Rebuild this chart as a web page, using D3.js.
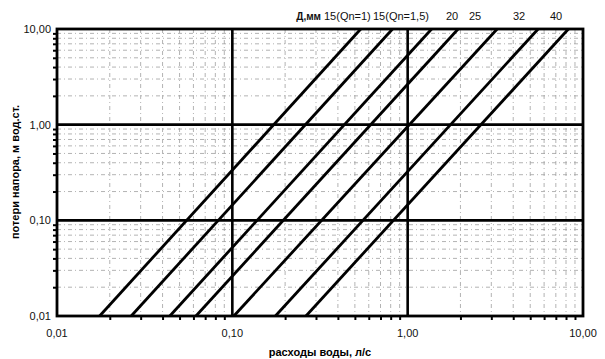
<!DOCTYPE html>
<html>
<head>
<meta charset="utf-8">
<script src="https://cdn.jsdelivr.net/npm/d3@7"></script>
<style>
  body { margin: 0; background: #fff; }
  svg { display: block; font-family: "Liberation Sans", Arial, sans-serif; }
</style>
</head>
<body>
<svg id="chart" width="605" height="359"></svg>
<script>
// flow (l/s) where each line enters the chart at 0.01 m and leaves at 10 m
var flowAtBottom = [0.0175, 0.0265, 0.044, 0.062, 0.102, 0.176, 0.263];
var flowAtTop    = [0.54, 0.82, 1.37, 1.94, 3.24, 5.55, 8.26];
var lossBottom = 0.01, lossTop = 10;

var decades = [0.01, 0.1, 1, 10];
var decadeLabels = ["0,01", "0,10", "1,00", "10,00"];
var headerLabels = ["Д,мм", "15(Qn=1)", "15(Qn=1,5)", "20", "25", "32", "40"];

var svg = d3.select("#chart"),
    margin = {top: 29, right: 22, bottom: 43, left: 57},
    width = +svg.attr("width") - margin.left - margin.right,
    height = +svg.attr("height") - margin.top - margin.bottom,
    g = svg.append("g").attr("transform", "translate(" + margin.left + "," + margin.top + ")");

var x = d3.scaleLog().domain([0.01, 10]).range([0, width]);
var y = d3.scaleLog().domain([0.01, 10]).range([height, 0]);

// minor values 2..9 in every decade
var minor = [];
decades.slice(0, 3).forEach(function(d) {
  for (var k = 2; k <= 9; k++) minor.push(d * k);
});

// minor grid
g.append("g").selectAll("line").data(minor).enter().append("line")
    .attr("x1", function(d) { return x(d); })
    .attr("x2", function(d) { return x(d); })
    .attr("y1", 0).attr("y2", height)
    .attr("stroke", "#a0a0a0")
    .attr("stroke-width", 0.8)
    .attr("stroke-dasharray", "4,3,1,3");
g.append("g").selectAll("line").data(minor).enter().append("line")
    .attr("y1", function(d) { return y(d); })
    .attr("y2", function(d) { return y(d); })
    .attr("x1", 0).attr("x2", width)
    .attr("stroke", "#a0a0a0")
    .attr("stroke-width", 0.8)
    .attr("stroke-dasharray", "4,3,1,3");

// minor ticks on the axes
var yAxis = g.append("g")
    .call(d3.axisLeft(y).tickValues(minor).tickSize(4).tickFormat(""));
var xAxis = g.append("g")
    .attr("transform", "translate(0," + height + ")")
    .call(d3.axisBottom(x).tickValues(minor).tickSize(4).tickFormat(""));
[xAxis, yAxis].forEach(function(a) {
  a.select(".domain").remove();
  a.selectAll(".tick line").attr("stroke", "#000").attr("stroke-width", 2);
});

// major decade lines
g.append("g").selectAll("line").data([0.1, 1]).enter().append("line")
    .attr("x1", function(d) { return x(d); })
    .attr("x2", function(d) { return x(d); })
    .attr("y1", 0).attr("y2", height)
    .attr("stroke", "#000").attr("stroke-width", 2.6);
g.append("g").selectAll("line").data([0.1, 1]).enter().append("line")
    .attr("y1", function(d) { return y(d); })
    .attr("y2", function(d) { return y(d); })
    .attr("x1", 0).attr("x2", width)
    .attr("stroke", "#000").attr("stroke-width", 2.6);

// border
g.append("rect")
    .attr("width", width).attr("height", height)
    .attr("fill", "none").attr("stroke", "#000").attr("stroke-width", 2.8);

// head-loss lines
var lines = flowAtBottom.map(function(q, i) {
  return [[q, lossBottom], [flowAtTop[i], lossTop]];
});
var line = d3.line()
    .x(function(d) { return x(d[0]); })
    .y(function(d) { return y(d[1]); });
g.append("g").selectAll("path").data(lines).enter().append("path")
    .attr("fill", "none")
    .attr("stroke", "#000")
    .attr("stroke-width", 2.8)
    .attr("d", line);

// decade labels
g.append("g").selectAll("text").data(decades).enter().append("text")
    .attr("x", -6)
    .attr("y", function(d) { return y(d); })
    .attr("dy", "0.35em")
    .attr("text-anchor", "end")
    .attr("font-size", 11)
    .attr("fill", "#111")
    .text(function(d, i) { return decadeLabels[i]; });
g.append("g").selectAll("text").data(decades).enter().append("text")
    .attr("x", function(d) { return x(d); })
    .attr("y", height + 17)
    .attr("dy", "0.35em")
    .attr("text-anchor", "middle")
    .attr("font-size", 11)
    .attr("fill", "#111")
    .text(function(d, i) { return decadeLabels[i]; });

// axis titles
svg.append("text")
    .attr("x", 320).attr("y", 352)
    .attr("dy", "0.35em")
    .attr("text-anchor", "middle")
    .attr("font-size", 11)
    .attr("font-weight", "bold")
    .text("расходы воды, л/с");
svg.append("text")
    .attr("transform", "translate(15,172) rotate(-90)")
    .attr("dy", "0.35em")
    .attr("text-anchor", "middle")
    .attr("font-size", 11)
    .attr("font-weight", "bold")
    .text("потери напора, м вод.ст.");

// header of diameters
var headerX = [321, 324, 373, 446, 469, 513, 550];
svg.append("g").selectAll("text").data(headerLabels).enter().append("text")
    .attr("x", function(d, i) { return headerX[i]; })
    .attr("y", 16)
    .attr("dy", "0.35em")
    .attr("text-anchor", function(d, i) { return i === 0 ? "end" : "start"; })
    .attr("font-size", function(d, i) { return i === 0 ? 10 : 11; })
    .attr("font-weight", function(d, i) { return i === 0 ? "bold" : "normal"; })
    .attr("fill", "#111")
    .text(function(d) { return d; });
</script>
</body>
</html>
